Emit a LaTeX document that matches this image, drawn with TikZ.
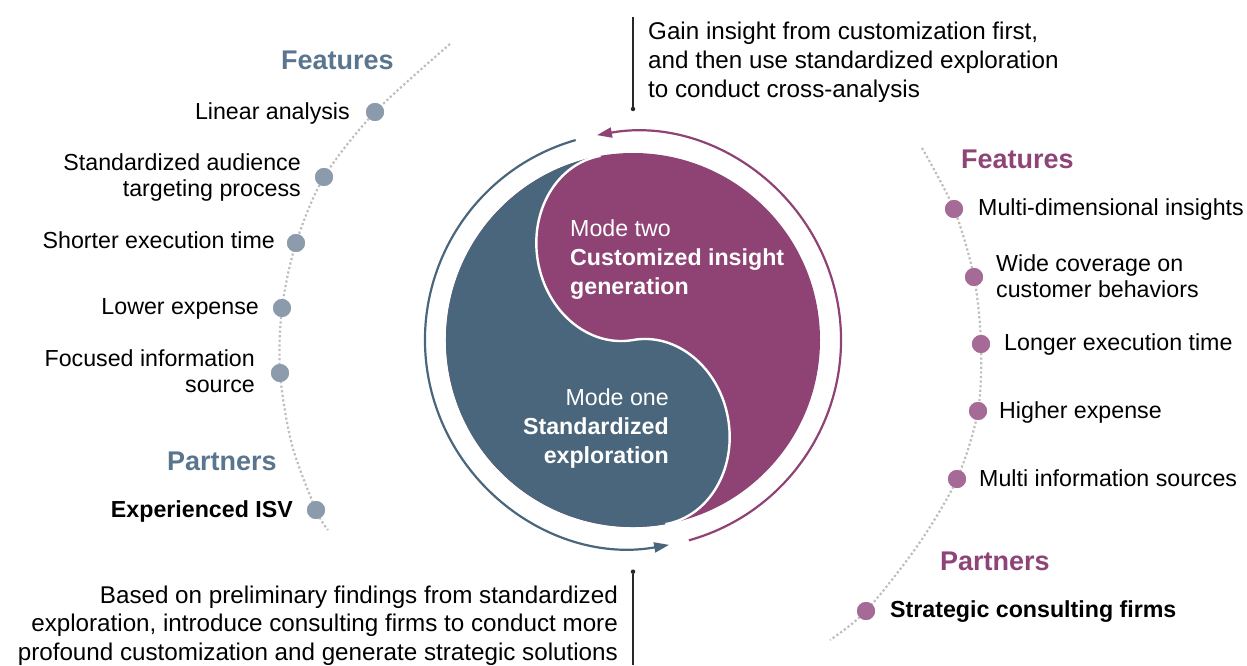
\documentclass[tikz,border=0pt]{standalone}
\usepackage{fontspec}
\setmainfont{Liberation Sans}
\usetikzlibrary{arrows.meta}
\definecolor{slate}{RGB}{74,102,124}
\definecolor{plum}{RGB}{142,67,116}
\definecolor{slatedot}{RGB}{140,155,171}
\definecolor{plumdot}{RGB}{166,106,151}
\definecolor{slatetitle}{RGB}{90,117,142}
\definecolor{plumtitle}{RGB}{142,68,119}
\definecolor{dotline}{RGB}{190,190,190}
\definecolor{noteline}{RGB}{40,40,40}
\begin{document}
\begin{tikzpicture}[x=1pt,y=1pt,
  body/.style={font=\fontsize{23.2}{26}\selectfont, inner sep=0pt, text=black},
  ttl/.style={font=\bfseries\fontsize{27}{30}\selectfont, inner sep=0pt},
  ctext/.style={font=\fontsize{23.2}{29}\selectfont, inner sep=0pt, text=white},
  note/.style={font=\fontsize{24.2}{29}\selectfont, inner sep=0pt, text=black},
  ldot/.style={circle, fill=slatedot, minimum size=18pt, inner sep=0pt},
  rdot/.style={circle, fill=plumdot, minimum size=18pt, inner sep=0pt},
  notedot/.style={circle, fill=noteline, minimum size=4.5pt, inner sep=0pt},
  trail/.style={dotline, line width=2.2pt, dash pattern=on 2.2pt off 2.4pt},
  ring/.style={line width=2.2pt},
  noteln/.style={noteline, line width=1.2pt}]
\useasboundingbox (0,0) rectangle (1247,665);
\coordinate (C) at (633,325);

% yin-yang
\fill[plum] (C) circle[radius=187];
\begin{scope}[shift={(633,325)}, rotate=10]
  \fill[slate] (0,187) arc[start angle=90, end angle=270, radius=187]
    arc[start angle=-90, end angle=90, x radius=80, y radius=93.5]
    arc[start angle=270, end angle=90, x radius=80, y radius=93.5] -- cycle;
  \draw[white, line width=2.4pt] (0,-187)
    arc[start angle=-90, end angle=90, x radius=80, y radius=93.5]
    arc[start angle=270, end angle=90, x radius=80, y radius=93.5];
\end{scope}

% ring arrows
\draw[ring, slate, -{Triangle[length=15pt,width=10pt]}] (C) ++(106:208) arc[start angle=106, end angle=280, radius=208];
\draw[ring, plum, -{Triangle[length=15pt,width=10pt]}] (C) ++(-74.4:208) arc[start angle=-74.4, end angle=100, radius=208];

% center texts (base anchor = last line)
\node[ctext, anchor=base west, align=left] (m2) at (570,370.3) {Mode two\\\textbf{Customized insight}\\\textbf{generation}};
\node[ctext, anchor=base east, align=right] (m1) at (669,202) {Mode one\\\textbf{Standardized}\\\textbf{exploration}};

% left column
\coordinate (lt) at (450,621);
\coordinate (lm) at (292,220);
\coordinate (lb) at (328,135);
\node[ldot] (ld1) at (375,553) {};
\node[ldot] (ld2) at (324,488) {};
\node[ldot] (ld3) at (296,422) {};
\node[ldot] (ld4) at (282,357) {};
\node[ldot] (ld5) at (280,292) {};
\node[ldot] (ld6) at (316,155) {};
\draw[trail] plot[smooth] coordinates {(lt) (ld1) (ld2) (ld3) (ld4) (ld5) (lm) (ld6) (lb)};
\foreach \n in {ld1,ld2,ld3,ld4,ld5,ld6} \fill[slatedot] (\n) circle[radius=9];

\node[ttl, text=slatetitle, anchor=base west] (lf) at (281,595.7) {Features};
\node[body, anchor=base east] (l1) at (350,545.7) {Linear analysis};
\node[body, anchor=base east, align=right] (l2) at (301,468.3) {Standardized audience\\targeting process};
\node[body, anchor=base east] (l3) at (275,416.7) {Shorter execution time};
\node[body, anchor=base east] (l4) at (259,350.7) {Lower expense};
\node[body, anchor=base east, align=right] (l5) at (255,272.7) {Focused information\\source};
\node[ttl, text=slatetitle, anchor=base west] (lp) at (167,195) {Partners};
\node[body, font=\bfseries\fontsize{23.2}{26}\selectfont, anchor=base east] (l6) at (293,148) {Experienced ISV};

% right column
\coordinate (rt) at (922,517);
\coordinate (rm) at (918,120);
\coordinate (rb) at (830,25);
\node[rdot] (rd1) at (954,456) {};
\node[rdot] (rd2) at (974,388) {};
\node[rdot] (rd3) at (981,321) {};
\node[rdot] (rd4) at (978,254) {};
\node[rdot] (rd5) at (957,186) {};
\node[rdot] (rd6) at (866,54) {};
\draw[trail] plot[smooth] coordinates {(rt) (rd1) (rd2) (rd3) (rd4) (rd5) (rm) (rd6) (rb)};
\foreach \n in {rd1,rd2,rd3,rd4,rd5,rd6} \fill[plumdot] (\n) circle[radius=9];

\node[ttl, text=plumtitle, anchor=base west] (rf) at (961,496.7) {Features};
\node[body, anchor=base west] (r1) at (978,449) {Multi-dimensional insights};
\node[body, anchor=base west, align=left] (r2) at (996,367.7) {Wide coverage on\\customer behaviors};
\node[body, anchor=base west] (r3) at (1004,314.3) {Longer execution time};
\node[body, anchor=base west] (r4) at (999,246.7) {Higher expense};
\node[body, anchor=base west] (r5) at (979,179) {Multi information sources};
\node[ttl, text=plumtitle, anchor=base west] (rp) at (940,95) {Partners};
\node[body, font=\bfseries\fontsize{23.2}{26}\selectfont, anchor=base west] (r6) at (890,48) {Strategic consulting firms};

% notes
\coordinate (tn1) at (633,648);
\node[notedot] (tn2) at (633,556) {};
\draw[noteln] (tn1) -- (tn2);
\node[note, anchor=base west, align=left] (tnote) at (648,567) {Gain insight from customization first,\\and then use standardized exploration\\to conduct cross-analysis};
\coordinate (bn1) at (633,0);
\node[notedot] (bn2) at (633,93.3) {};
\draw[noteln] (bn2) -- (bn1);
\node[note, font=\fontsize{24.2}{28.5}\selectfont, anchor=base east, align=right] (bnote) at (618,5) {Based on preliminary findings from standardized\\exploration, introduce consulting firms to conduct more\\profound customization and generate strategic solutions};
\end{tikzpicture}
\end{document}
